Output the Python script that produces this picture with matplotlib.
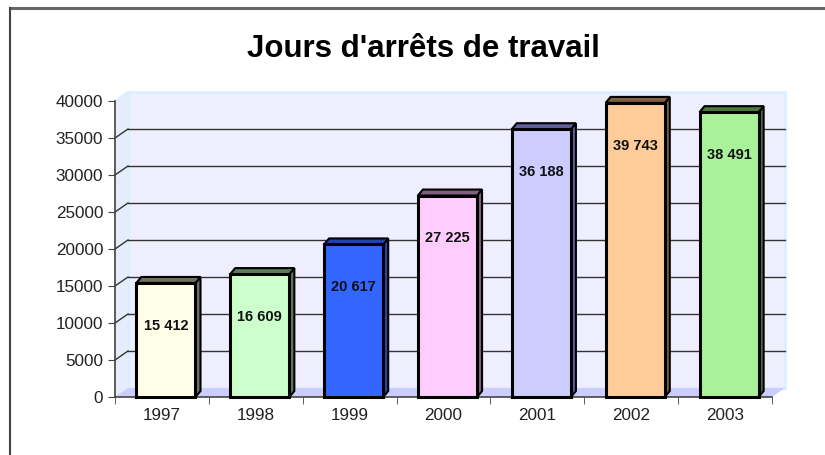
import matplotlib
matplotlib.use('Agg')
import matplotlib.pyplot as plt
from matplotlib.patches import Polygon, Rectangle
from matplotlib.lines import Line2D
import numpy as np

plt.rcParams['font.family'] = ['Liberation Sans', 'DejaVu Sans']

years = ['1997', '1998', '1999', '2000', '2001', '2002', '2003']
jours = [15412, 16609, 20617, 27225, 36188, 39743, 38491]
labels = ['15 412', '16 609', '20 617', '27 225', '36 188', '39 743', '38 491']
front_colors = ['#FFFFE8', '#CCFFCC', '#3366FF', '#FFCCFF', '#CCCCFF', '#FFCC99', '#AAF299']
side_colors = ['#707060', '#5A7A5A', '#2244AA', '#806080', '#6060A0', '#806040', '#4A7A3A']
yticks = [0, 5000, 10000, 15000, 20000, 25000, 30000, 35000, 40000]

W, H = 825, 455
fig = plt.figure(figsize=(W / 100, H / 100), dpi=100)
ax = fig.add_axes([115 / W, 1 - 397 / H, (772 - 115) / W, (397 - 101) / H])
ax.set_xlim(-0.5, 6.5)
ax.set_ylim(0, 40000)

# pixel -> data conversions for the 3d depth
px_x = 7.0 / (772 - 115)
px_y = 40000 / (397 - 101)
dx, dy = 13 * px_x, 9 * px_y
bdx, bdy = 5 * px_x, 6 * px_y

x0, x1 = -0.5, 6.5
# back wall, side wall, floor
ax.add_patch(Polygon([(x0 + dx, dy), (x1 + dx, dy), (x1 + dx, 40000 + dy), (x0 + dx, 40000 + dy)],
                     closed=True, fc='#EEEEFF', ec='#D8F0FF', lw=2, clip_on=False, zorder=0))
ax.add_patch(Polygon([(x0, 0), (x0 + dx, dy), (x0 + dx, 40000 + dy), (x0, 40000)],
                     closed=True, fc='#E8ECFA', ec='#D8F0FF', lw=1.5, clip_on=False, zorder=0))
ax.add_patch(Polygon([(x0, 0), (x1, 0), (x1 + dx, dy), (x0 + dx, dy)],
                     closed=True, fc='#CCCCFF', ec='none', clip_on=False, zorder=0.5))

for v in yticks[1:-1]:
    ax.plot([x0 + dx, x1 + dx], [v + dy, v + dy], color='#333333', lw=1, zorder=1, clip_on=False)
    ax.plot([x0, x0 + dx], [v, v + dy], color='#333333', lw=1, zorder=1, clip_on=False)

# bars
bw = 0.63
shift = 4 * px_x
for i, v in enumerate(jours):
    l, r = i - bw / 2 + shift, i + bw / 2 + shift
    ax.add_patch(Polygon([(r, 0), (r + bdx, bdy), (r + bdx, v + bdy), (r, v)],
                         closed=True, fc=side_colors[i], ec='black', lw=1.5, zorder=3, clip_on=False))
    ax.add_patch(Polygon([(l, v), (l + bdx, v + bdy), (r + bdx, v + bdy), (r, v)],
                         closed=True, fc=side_colors[i], ec='black', lw=1.5, zorder=3, clip_on=False))
    ax.add_patch(Rectangle((l, 0), bw, v, fc=front_colors[i], ec='black', lw=2.2, zorder=4,
                           clip_on=False))
    ax.text(i + shift, v - 5800, labels[i], ha='center', va='center', fontsize=10.5,
            fontweight='bold', color='#111111', zorder=5)

for s in ['top', 'right']:
    ax.spines[s].set_visible(False)
for s in ['left', 'bottom']:
    ax.spines[s].set_color('#444444')
    ax.spines[s].set_linewidth(1.2)
    ax.spines[s].set_zorder(2)
ax.set_facecolor('none')

ax.set_yticks(yticks)
ax.set_yticklabels([str(t) for t in yticks])
ax.set_xticks(range(len(years)))
ax.set_xticklabels(years)
ax.set_xticks(np.arange(-0.5, 7, 1), minor=True)
ax.tick_params(axis='x', which='major', length=0, labelsize=12.3, colors='#222222', pad=8)
ax.tick_params(axis='x', which='minor', length=5, direction='out', color='#444444')
ax.tick_params(axis='y', length=5, direction='out', labelsize=12.3, colors='#222222', color='#444444')

fig.text(423 / W, 1 - 49 / H, "Jours d'arrêts de travail", ha='center', va='center',
         fontsize=22.5, fontweight='bold', color='black')

# outer frame
fig.add_artist(Line2D([10 / W, 1], [1 - 7.5 / H, 1 - 7.5 / H], color='#666666', lw=2.2))
fig.add_artist(Line2D([10 / W, 10 / W], [0, 1 - 7.5 / H], color='#444444', lw=1.5))

fig.savefig('out.png', dpi=100)
